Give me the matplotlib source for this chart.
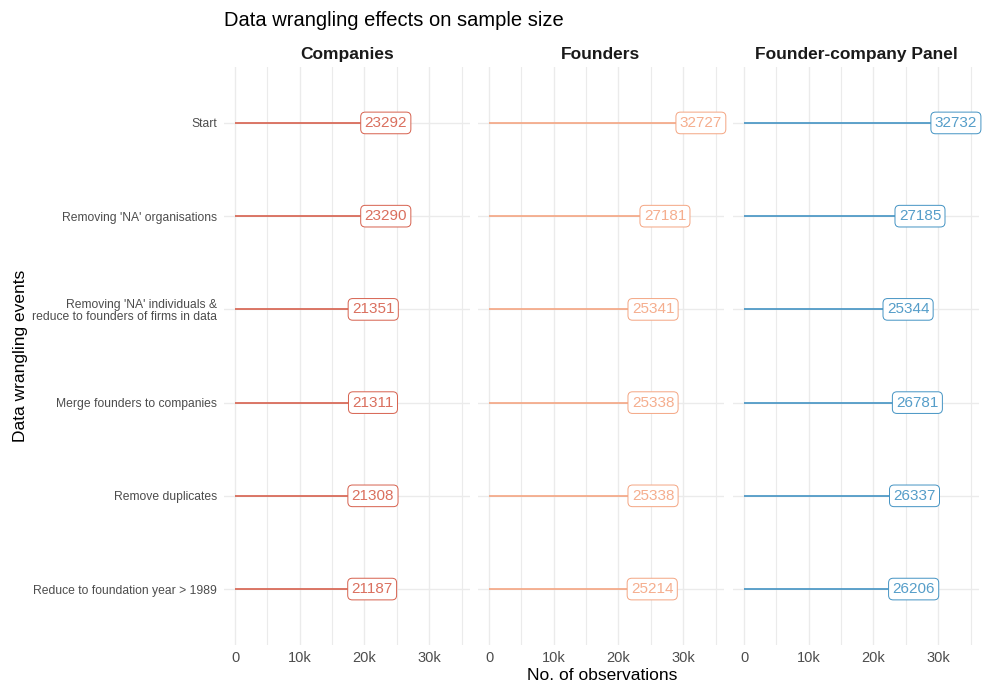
import matplotlib
matplotlib.use('Agg')
import matplotlib.pyplot as plt
from matplotlib.ticker import MultipleLocator, FuncFormatter

plt.rcParams['font.family'] = ['Liberation Sans', 'DejaVu Sans']

# datos
events = [
    "Start",
    "Removing 'NA' organisations",
    "Removing 'NA' individuals &\nreduce to founders of firms in data",
    "Merge founders to companies",
    "Remove duplicates",
    "Reduce to foundation year > 1989",
]
panels = ["Companies", "Founders", "Founder-company Panel"]
companies = [23292, 23290, 21351, 21311, 21308, 21187]
founders = [32727, 27181, 25341, 25338, 25338, 25214]
panel_obs = [32732, 27185, 25344, 26781, 26337, 26206]
colors = ['#d6604d', '#f4a582', '#4393c3']
xticks = [0, 10000, 20000, 30000]

series = [companies, founders, panel_obs]

W, H = 996, 690
fig = plt.figure(figsize=(W / 100, H / 100), dpi=100)

lefts = [224, 478, 733]
pw = 246
top, bottom = 67, 645

grid_col = '#EBEBEB'
txt_col = '#4D4D4D'

axes = []
for i, (name, vals, col) in enumerate(zip(panels, series, colors)):
    ax = fig.add_axes([lefts[i] / W, (H - bottom) / H, pw / W, (bottom - top) / H])
    axes.append(ax)
    y = list(range(len(events)))
    ax.hlines(y, 0, vals, color=col, lw=1.2, zorder=2)
    for yy, v in zip(y, vals):
        ax.text(v, yy, str(v), ha='center', va='center', fontsize=11, color=col,
                alpha=0.9, zorder=3,
                bbox=dict(boxstyle='round,pad=0.25,rounding_size=0.3', fc='white',
                          ec=col, lw=0.7, alpha=1))
    ax.set_xlim(-1700, 36300)
    ax.set_ylim(len(events) - 0.4, -0.6)
    ax.set_xticks(xticks)
    ax.xaxis.set_minor_locator(MultipleLocator(5000))
    ax.xaxis.set_major_formatter(FuncFormatter(lambda v, p: '0' if v == 0 else f'{int(v/1000)}k'))
    ax.set_yticks(y)
    if i == 0:
        ax.set_yticklabels(events, fontsize=8.7, color=txt_col, linespacing=1.05,
                           multialignment='right')
    else:
        ax.set_yticklabels([])
    ax.grid(True, which='major', axis='both', color=grid_col, lw=1.0, zorder=0)
    ax.grid(True, which='minor', axis='x', color=grid_col, lw=0.8, zorder=0)
    ax.tick_params(which='both', length=0)
    ax.tick_params(axis='x', labelsize=10.5, labelcolor=txt_col, pad=4)
    ax.tick_params(axis='y', pad=5)
    for s in ax.spines.values():
        s.set_visible(False)
    ax.set_axisbelow(True)
    ax.set_title(name, fontsize=12.5, fontweight='bold', color='#1a1a1a', pad=6)

fig.text(224 / W, 1 - 20 / H, 'Data wrangling effects on sample size', fontsize=14.5,
         ha='left', va='center')
fig.text(602 / W, 1 - 676 / H, 'No. of observations', fontsize=12.5, ha='center', va='center')
fig.text(20 / W, 1 - 356 / H, 'Data wrangling events', fontsize=12.5, ha='center',
         va='center', rotation=90)

fig.savefig('out.png', dpi=100, facecolor='white')
